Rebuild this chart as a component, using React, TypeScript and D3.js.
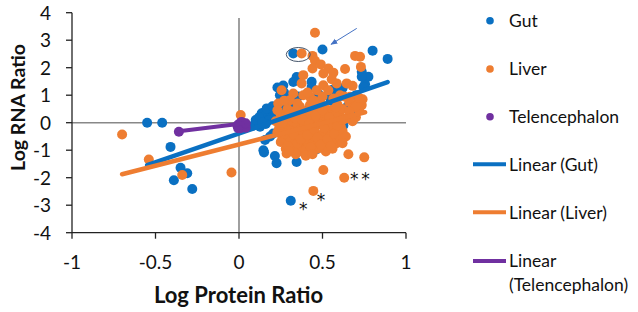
import React from "react";
import * as d3 from "d3";

const xTicks = [-1, -0.5, 0, 0.5, 1];
const yTicks = [-4, -3, -2, -1, 0, 1, 2, 3, 4];

const gutPoints: [number, number][] = [
  [-0.55, 0.0], [-0.46, 0.0], [-0.41, -0.88], [-0.35, -1.64], [-0.39, -2.09], [-0.31, -1.84], [-0.28, -2.41],
  [0.31, -2.84], [0.15, -1.08], [0.215, -1.21], [0.225, -1.47], [0.345, -1.43], [0.355, -0.98], [0.465, -0.96],
  [0.625, -0.1], [0.6, 0.28],
  [0.325, 2.52], [0.5, 2.66], [0.8, 2.62], [0.89, 2.32], [0.735, 1.85], [0.755, 1.4], [0.345, 1.66], [0.435, 1.49],
  [0.265, 1.35], [0.585, 1.31], [0.62, 1.25], [0.245, 1.0], [0.475, 1.05], [0.305, 0.64], [0.145, 0.35], [0.19, 0.45],
  [0.23, 1.28], [0.355, 0.95], [0.56, 1.2], [0.775, 1.67],
  [0.146, 0.28], [0.166, 0.3], [0.21, 0.4], [0.126, -0.15], [0.186, -0.5], [0.086, -0.1], [0.11, 0.05], [0.2, 0.2],
  [0.24, 0.15], [0.25, -0.3], [0.28, 0.45], [0.3, 0.9], [0.27, 1.1], [0.38, 0.2], [0.42, 0.5], [0.5, 0.3],
  [0.55, 0.8], [0.65, 0.6], [0.7, 1.0], [0.4, -0.4], [0.33, -0.7], [0.45, -0.2], [0.52, -0.5], [0.6, 0.95],
  [0.68, 0.3], [0.36, -0.75], [0.205, -0.39],
  [0.325, 1.48], [0.435, 1.3], [0.485, 0.87], [0.545, 0.93], [0.605, 1.05], [0.745, 1.3], [0.735, 1.67],
  [0.136, 0.34], [0.166, 0.52], [0.265, 0.64], [0.325, 0.76], [0.156, -0.63], [0.146, -1.0], [0.355, -0.93],
  [0.615, 0.0], [0.1, 0.1], [0.12, 0.2], [0.18, 0.1], [0.2, 0.6], [0.22, 0.3], [0.25, 0.55], [0.16, -0.05], [0.14, 0.0],
];

const liverPoints: [number, number][] = [
  [-0.7, -0.43], [-0.54, -1.34], [-0.34, -1.9], [-0.045, -1.81], [0.01, 0.28], [0.455, 3.27], [0.445, -2.48],
  [0.505, -1.72], [0.63, -2.0], [0.655, -1.15], [0.75, -1.26],
  [0.375, 2.52], [0.44, 2.43], [0.455, 2.25], [0.49, 2.12], [0.44, 1.97], [0.535, 1.97], [0.565, 1.82], [0.505, 1.79],
  [0.695, 2.43], [0.725, 2.4], [0.73, 2.03], [0.635, 1.95], [0.385, 1.73], [0.375, 1.43], [0.555, 1.58], [0.585, 1.43],
  [0.645, 1.43], [0.68, 1.34], [0.505, 1.36], [0.465, 1.18], [0.535, 1.18], [0.255, 1.18], [0.325, 1.06], [0.385, 1.0],
  [0.425, 0.94], [0.305, 0.82], [0.485, 0.76], [0.565, 0.88], [0.605, 1.0], [0.665, 0.94], [0.715, 0.76], [0.735, 0.64],
  [0.235, 0.7], [0.365, 0.58], [0.425, 0.64], [0.74, 0.85], [0.72, 0.45], [0.7, 0.2], [0.68, 0.05],
  [0.285, -1.12], [0.435, -1.06], [0.485, -0.88], [0.535, -0.69], [0.585, -0.75], [0.605, -0.39], [0.28, -0.95], [0.3, -0.8],
  [0.25, 0.3], [0.27, -0.1], [0.29, 0.5], [0.3, -0.4], [0.31, 0.1], [0.32, -0.7], [0.33, 0.35], [0.34, -0.2],
  [0.35, 0.7], [0.36, -0.5], [0.37, 0.05], [0.38, -0.9], [0.39, 0.4], [0.4, -0.3], [0.41, 0.2], [0.42, -0.6],
  [0.43, 0.0], [0.44, -0.8], [0.45, 0.5], [0.46, -0.4], [0.47, 0.15], [0.48, -0.65], [0.49, 0.35], [0.5, -0.1],
  [0.51, 0.6], [0.52, -0.35], [0.53, 0.25], [0.54, -0.55], [0.55, 0.45], [0.56, -0.2], [0.57, 0.1], [0.58, -0.45],
  [0.59, 0.65], [0.6, 0.3], [0.61, -0.15], [0.62, 0.5], [0.64, 0.15], [0.66, 0.75], [0.26, -0.55], [0.28, 0.15],
  [0.3, -0.15], [0.32, 0.25], [0.33, -0.95], [0.35, -0.05], [0.36, 0.3], [0.38, -0.45], [0.4, 0.1], [0.41, -0.75],
  [0.43, 0.3], [0.44, -0.15], [0.46, -0.7], [0.47, 0.4], [0.49, -0.45], [0.5, 0.1], [0.52, -0.8], [0.53, 0.0],
  [0.55, -0.3], [0.57, 0.3], [0.58, -0.7], [0.6, 0.05], [0.34, 0.15], [0.37, -0.25], [0.39, -0.6], [0.42, 0.45],
  [0.45, -0.5], [0.48, -0.05], [0.51, 0.35], [0.54, -0.1], [0.56, -0.6], [0.62, -0.3], [0.31, -0.6], [0.29, -0.25],
  [0.23, 0.45], [0.22, 0.05], [0.24, -0.2], [0.27, 0.8], [0.58, 0.85], [0.63, 0.95], [0.68, 0.55], [0.45, 0.8],
  [0.5, 0.95], [0.41, 1.1], [0.36, -1.05], [0.4, -1.0], [0.47, -0.95], [0.52, -1.05], [0.56, -0.95],
  [0.23, -0.35], [0.25, -0.7], [0.27, -0.4], [0.29, -0.85], [0.31, -0.3], [0.33, -0.45], [0.35, -0.75], [0.37, -0.6],
  [0.39, -0.15], [0.41, -0.45], [0.43, -0.9], [0.45, -0.25], [0.47, -0.55], [0.49, -0.8], [0.51, -0.2], [0.53, -0.6],
  [0.55, -0.85], [0.57, -0.4], [0.59, -0.1], [0.61, -0.6], [0.26, 0.0], [0.3, 0.3], [0.34, 0.45], [0.38, 0.1],
  [0.42, -0.05], [0.46, 0.25], [0.5, 0.45], [0.54, 0.2], [0.58, 0.55], [0.62, 0.1], [0.7, 0.6], [0.72, 0.9],
  [0.66, 0.4], [0.64, -0.5], [0.62, -0.75], [0.34, -1.15], [0.4, -1.2], [0.3, -1.05], [0.44, -1.15],
];

const telPoints: [number, number][] = [
  [-0.36, -0.33], [0.0, -0.05], [0.02, -0.15], [0.03, -0.05], [0.01, -0.2], [0.035, -0.12], [0.0, -0.12], [0.02, 0.0],
  [-0.01, -0.1], [0.04, -0.18], [0.015, 0.03], [-0.005, -0.2], [0.04, -0.02],
];

const seriesNames = ["Gut", "Liver", "Telencephalon"];
const trendNames = ["Linear (Gut)", "Linear (Liver)", "Linear (Telencephalon)"];
const trendSlopes = [2.1, 1.55, 0.74];
const trendIntercepts = [-0.39, -0.79, -0.045];
const trendXRanges: [number, number][] = [[-0.55, 0.89], [-0.7, 0.755], [-0.36, 0.02]];

const ellipseCenter: [number, number] = [0.355, 2.48];
const arrowFrom: [number, number] = [0.705, 3.43];
const arrowTo: [number, number] = [0.551, 2.85];
const asterisks: [number, number][] = [[0.69, -1.95], [0.758, -1.95], [0.491, -2.69], [0.385, -3.03]];

const COLORS = ["#0A70C2", "#EE7D31", "#7030A0"];
const FONT = "Lato, 'Open Sans', sans-serif";

export default function App() {
  const x = d3.scaleLinear().domain([-1, 1]).range([72, 406]);
  const y = d3.scaleLinear().domain([-4, 4]).range([232.7, 12.7]);
  const line = d3.line<[number, number]>().x((d) => x(d[0])).y((d) => y(d[1]));
  const radii = [5, 5, 5];

  const legendY = [20.7, 69, 116.7];
  const legendLineY = [164.3, 212.3, 261];

  const trendPath = (i: number) => {
    const pts: [number, number][] = trendXRanges[i].map(
      (xv) => [xv, trendSlopes[i] * xv + trendIntercepts[i]] as [number, number]
    );
    return line(pts) || "";
  };
  const dots = (pts: [number, number][], si: number) =>
    pts.map((p, i) => <circle key={si + "-" + i} cx={x(p[0])} cy={y(p[1])} r={radii[si]} fill={COLORS[si]} />);

  return (
    <svg
      width={638}
      height={312}
      style={{ position: "absolute", left: 0, top: 0, background: "#fff" }}
      fontFamily={FONT}
    >
      <defs>
        <marker id="arr" viewBox="0 0 10 10" refX="9" refY="5" markerWidth="7" markerHeight="7" orient="auto">
          <path d="M0,1 L10,5 L0,9 z" fill="#4472C4" />
        </marker>
      </defs>
      {/* zero lines */}
      <line x1={x(0)} x2={x(0)} y1={18} y2={y(-4)} stroke="#888" strokeWidth={1.6} />
      <line x1={x(-1)} x2={x(1)} y1={y(0)} y2={y(0)} stroke="#888" strokeWidth={1.6} />
      {/* axes */}
      <line x1={x(-1)} x2={x(-1)} y1={y(4)} y2={y(-4)} stroke="#222" strokeWidth={1.3} />
      <line x1={x(-1)} x2={x(1)} y1={y(-4)} y2={y(-4)} stroke="#222" strokeWidth={1.3} />
      {yTicks.map((t) => (
        <g key={"y" + t}>
          <line x1={x(-1) - 6} x2={x(-1)} y1={y(t)} y2={y(t)} stroke="#222" strokeWidth={1.3} />
          <text x={51} y={y(t)} dy="0.36em" textAnchor="end" fontSize={19} fill="#111">
            {t}
          </text>
        </g>
      ))}
      {xTicks.map((t) => (
        <g key={"x" + t}>
          <line x1={x(t)} x2={x(t)} y1={y(-4)} y2={y(-4) + 6} stroke="#222" strokeWidth={1.3} />
          <text x={x(t)} y={268.5} textAnchor="middle" fontSize={19} fill="#111">
            {t}
          </text>
        </g>
      ))}
      <text x={238.5} y={303} textAnchor="middle" fontSize={22} fontWeight="bold" fill="#111">
        Log Protein Ratio
      </text>
      <text
        transform={`translate(25,107.5) rotate(-90)`}
        textAnchor="middle"
        fontSize={19.5}
        fontWeight="bold"
        fill="#111"
      >
        Log RNA Ratio
      </text>
      {/* points and trendlines */}
      <g>{dots(gutPoints, 0)}</g>
      <g>{dots(liverPoints, 1)}</g>
      <path d={trendPath(0)} stroke={COLORS[0]} strokeWidth={4.5} fill="none" strokeLinecap="round" />
      <path d={trendPath(1)} stroke={COLORS[1]} strokeWidth={4.5} fill="none" strokeLinecap="round" />
      <g>{dots(telPoints, 2)}</g>
      <path d={trendPath(2)} stroke={COLORS[2]} strokeWidth={4} fill="none" strokeLinecap="round" />
      {/* annotations */}
      <ellipse cx={x(ellipseCenter[0])} cy={y(ellipseCenter[1])} rx={12} ry={7} fill="none" stroke="#44546A" strokeWidth={1} />
      <line
        x1={x(arrowFrom[0])}
        y1={y(arrowFrom[1])}
        x2={x(arrowTo[0])}
        y2={y(arrowTo[1])}
        stroke="#4472C4"
        strokeWidth={1}
        markerEnd="url(#arr)"
      />
      {asterisks.map((a, i) => (
        <text key={"a" + i} x={x(a[0])} y={y(a[1]) + 9} textAnchor="middle" fontSize={17} fill="#111" fontFamily="'DejaVu Sans', sans-serif">
          *
        </text>
      ))}
      {/* legend */}
      {seriesNames.map((n, i) => (
        <g key={"l" + i}>
          <circle cx={490} cy={legendY[i]} r={3.8} fill={COLORS[i]} />
          <text x={509} y={legendY[i]} dy="0.36em" fontSize={17.5} fill="#111">
            {n}
          </text>
        </g>
      ))}
      {trendNames.map((n, i) => (
        <g key={"tl" + i}>
          <line x1={473} x2={506} y1={legendLineY[i]} y2={legendLineY[i]} stroke={COLORS[i]} strokeWidth={4} />
          {i < 2 ? (
            <text x={509} y={legendLineY[i]} dy="0.36em" fontSize={17.5} fill="#111">
              {n}
            </text>
          ) : (
            <text x={509} y={legendLineY[i]} dy="0.36em" fontSize={17.5} fill="#111">
              <tspan x={509}>Linear</tspan>
              <tspan x={509} dy={23.3}>(Telencephalon)</tspan>
            </text>
          )}
        </g>
      ))}
    </svg>
  );
}
